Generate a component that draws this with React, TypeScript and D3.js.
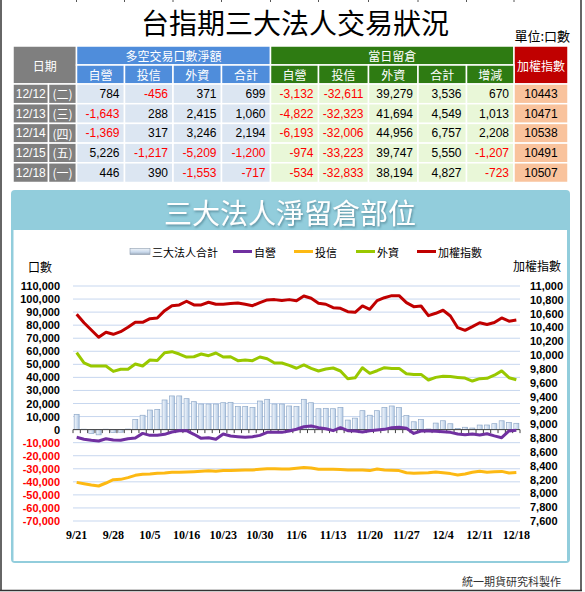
import React from 'react';
import * as d3 from 'd3';

// ---------- data ----------
const dates = ['9/21','9/22','9/25','9/26','9/27','9/28','9/29','10/2','10/3','10/4','10/5','10/6','10/11','10/12','10/13','10/16','10/17','10/18','10/19','10/20','10/23','10/24','10/25','10/26','10/27','10/30','10/31','11/1','11/2','11/3','11/6','11/7','11/8','11/9','11/10','11/13','11/14','11/15','11/16','11/17','11/20','11/21','11/22','11/23','11/24','11/27','11/28','11/29','11/30','12/1','12/4','12/5','12/6','12/7','12/8','12/11','12/12','12/13','12/14','12/15','12/18'];
const xTickDates = ['9/21','9/28','10/5','10/16','10/23','10/30','11/6','11/13','11/20','11/27','12/4','12/11','12/18'];

const totalOI = [11700, 300, -2900, -4000, 300, -2100, -2000, 400, 7800, 11000,
  15000, 15500, 22700, 25800, 25800, 23700, 21400, 19600, 19600, 19600,
  20600, 20900, 17600, 17600, 17000, 21900, 23200, 19600, 19600, 18100,
  17600, 23200, 20600, 16000, 16300, 16000, 17000, 7300, 8800, 14500,
  11000, 14500, 16900, 18100, 16900, 10700, 6000, 7800, 500, 5000,
  6800, 4500, 800, 1800, 1200, 3500, 3536, 4549, 6757, 5550,
  4827];
const dealerOI = [-5900, -7400, -8200, -8700, -7000, -8000, -8200, -7000, -6400, -2900,
  -4400, -4400, -3600, -1800, -800, -800, -3600, -6700, -6200, -7400,
  -3400, -4900, -5400, -5900, -5400, -4400, -2100, -2100, -2100, -1100,
  300, 2200, 2800, 1500, 700, -800, 1500, -800, -1100, -1800,
  -800, -300, 200, 1500, 1800, 1000, -2900, -1100, -1100, -1300,
  -1600, -2100, -3400, -3900, -3400, -4100, -3132, -4822, -6193, -974,
  -534];
const trustOI = [-40400, -41400, -42400, -43200, -40900, -38400, -38100, -36800, -35000, -34200,
  -34000, -33500, -33200, -32700, -32700, -32400, -32200, -31900, -31600, -31900,
  -31400, -31400, -31100, -30900, -30900, -30400, -29900, -29900, -30200, -30200,
  -29600, -29100, -29400, -30400, -30400, -30400, -30600, -30900, -30900, -30900,
  -31400, -30200, -30900, -31100, -31400, -33000, -33500, -33200, -33000, -32400,
  -33000, -33700, -34700, -34000, -32700, -31900, -32611, -32323, -32006, -33223,
  -32833];
const foreignOI = [58900, 51200, 48700, 48700, 48700, 44600, 46200, 46200, 50200, 48700,
  53300, 53000, 58900, 59700, 57900, 55600, 55800, 57900, 56600, 58700,
  55600, 55800, 52800, 53300, 52800, 55600, 54300, 51000, 51000, 49200,
  47000, 49500, 46900, 44900, 46400, 47200, 44900, 39000, 39700, 47400,
  43100, 45100, 47400, 46900, 46900, 42800, 42300, 42300, 38000, 40000,
  40800, 40600, 40000, 39500, 37200, 39000, 39279, 41694, 44956, 39747,
  38194];
const taiex = [10591, 10469, 10364, 10258, 10330, 10301, 10339, 10403, 10475, 10475,
  10527, 10537, 10643, 10715, 10726, 10779, 10726, 10726, 10765, 10736,
  10736, 10746, 10755, 10736, 10715, 10760, 10798, 10803, 10789, 10803,
  10786, 10856, 10822, 10750, 10736, 10687, 10677, 10629, 10620, 10711,
  10663, 10788, 10831, 10860, 10860, 10759, 10701, 10711, 10571, 10605,
  10649, 10566, 10397, 10359, 10412, 10469, 10443, 10471, 10538, 10491,
  10507];

const leftTicks = d3.range(-70000, 110001, 10000);
const rightTicks = d3.range(7600, 11001, 200);

// table
const tableDates = ['12/12', '12/13', '12/14', '12/15', '12/18'];
const tableWeekdays = ['(二)', '(三)', '(四)', '(五)', '(一)'];
const netDealer = [784, -1643, -1369, 5226, 446];
const netTrust = [-456, 288, 317, -1217, 390];
const netForeign = [371, 2415, 3246, -5209, -1553];
const netTotal = [699, 1060, 2194, -1200, -717];
const oiDealer = [-3132, -4822, -6193, -974, -534];
const oiTrust = [-32611, -32323, -32006, -33223, -32833];
const oiForeign = [39279, 41694, 44956, 39747, 38194];
const oiTotal = [3536, 4549, 6757, 5550, 4827];
const oiChange = [670, 1013, 2208, -1207, -723];
const indexClose = [10443, 10471, 10538, 10491, 10507];
const netHeaders = ['自營', '投信', '外資', '合計'];
const oiHeaders = ['自營', '投信', '外資', '合計', '增減'];

// ---------- styles ----------
const CJK = '"Noto Sans CJK TC", "Noto Sans CJK SC", sans-serif';
const SANS = '"Liberation Sans", Arial, sans-serif';
const SERIF = '"Liberation Serif", "Times New Roman", serif';
const C_RED = '#c00000';
const C_GREEN = '#99c800';
const C_PURPLE = '#7030a0';
const C_ORANGE = '#fdb913';

const fmt = d3.formatLocale({ decimal: '.', thousands: ',', grouping: [3], currency: ['', ''], minus: '-' }).format(',');

function Table() {
  const colX = [13, 48.5, 76.5, 124.5, 173, 221.5, 270.5, 318.5, 368.5, 418, 466.5, 514, 568];
  const rowY = [46, 65, 84, 103.7, 123.4, 143.1, 162.8, 182.5];
  const GRAY = '#7f7f7f', BLUE = '#4f8ddb', BLUE_L = '#dce6f2', GREEN = '#2e7b12', GREEN_L = '#e9f7d8', RED = '#c00000', ORANGE_L = '#f9c39d';
  const els: React.ReactNode[] = [];
  const cell = (key: string, x0: number, x1: number, y0: number, y1: number, fill: string) =>
    els.push(<rect key={key} x={x0} y={y0} width={x1 - x0} height={y1 - y0} fill={fill} stroke="#fff" strokeWidth={1.5} />);
  const txt = (key: string, x: number, y: number, s: string, opts: any) =>
    els.push(<text key={key} x={x} y={y} dominantBaseline="central" {...opts}>{s}</text>);

  // headers
  cell('h-date', colX[0], colX[2], rowY[0], rowY[2], GRAY);
  txt('t-date', (colX[0] + colX[2]) / 2, (rowY[0] + rowY[2]) / 2, '日期', { fill: '#fff', fontFamily: CJK, fontSize: 12, textAnchor: 'middle' });
  cell('h-net', colX[2], colX[6], rowY[0], rowY[1], BLUE);
  txt('t-net', (colX[2] + colX[6]) / 2, (rowY[0] + rowY[1]) / 2, '多空交易口數淨額', { fill: '#fff', fontFamily: CJK, fontSize: 12, textAnchor: 'middle' });
  cell('h-oi', colX[6], colX[11], rowY[0], rowY[1], GREEN);
  txt('t-oi', (colX[6] + colX[11]) / 2, (rowY[0] + rowY[1]) / 2, '當日留倉', { fill: '#fff', fontFamily: CJK, fontSize: 12, textAnchor: 'middle' });
  cell('h-idx', colX[11], colX[12], rowY[0], rowY[2], RED);
  txt('t-idx', (colX[11] + colX[12]) / 2, (rowY[0] + rowY[2]) / 2, '加權指數', { fill: '#fff', fontFamily: CJK, fontSize: 12, textAnchor: 'middle' });
  netHeaders.forEach((h, i) => {
    cell('hn' + i, colX[2 + i], colX[3 + i], rowY[1], rowY[2], BLUE);
    txt('tn' + i, (colX[2 + i] + colX[3 + i]) / 2, (rowY[1] + rowY[2]) / 2, h, { fill: '#fff', fontFamily: CJK, fontSize: 12, textAnchor: 'middle' });
  });
  oiHeaders.forEach((h, i) => {
    cell('ho' + i, colX[6 + i], colX[7 + i], rowY[1], rowY[2], GREEN);
    txt('to' + i, (colX[6 + i] + colX[7 + i]) / 2, (rowY[1] + rowY[2]) / 2, h, { fill: '#fff', fontFamily: CJK, fontSize: 12, textAnchor: 'middle' });
  });

  tableDates.forEach((d, r) => {
    const y0 = rowY[2 + r], y1 = rowY[3 + r], ym = (y0 + y1) / 2;
    cell('d' + r, colX[0], colX[1], y0, y1, GRAY);
    txt('td' + r, (colX[0] + colX[1]) / 2, ym, d, { fill: '#fff', fontFamily: SANS, fontSize: 12, textAnchor: 'middle' });
    cell('w' + r, colX[1], colX[2], y0, y1, GRAY);
    txt('tw' + r, (colX[1] + colX[2]) / 2, ym, tableWeekdays[r], { fill: '#fff', fontFamily: CJK, fontSize: 12, textAnchor: 'middle' });
    const netVals = [netDealer[r], netTrust[r], netForeign[r], netTotal[r]];
    netVals.forEach((v, i) => {
      cell(`n${r}-${i}`, colX[2 + i], colX[3 + i], y0, y1, BLUE_L);
      txt(`tn${r}-${i}`, colX[3 + i] - 5, ym, fmt(v), { fill: v < 0 ? '#ff0000' : '#000', fontFamily: SANS, fontSize: 12, textAnchor: 'end' });
    });
    const oiVals = [oiDealer[r], oiTrust[r], oiForeign[r], oiTotal[r], oiChange[r]];
    oiVals.forEach((v, i) => {
      cell(`o${r}-${i}`, colX[6 + i], colX[7 + i], y0, y1, GREEN_L);
      txt(`to${r}-${i}`, colX[7 + i] - 5, ym, fmt(v), { fill: v < 0 ? '#ff0000' : '#000', fontFamily: SANS, fontSize: 12, textAnchor: 'end' });
    });
    cell('i' + r, colX[11], colX[12], y0, y1, ORANGE_L);
    txt('ti' + r, (colX[11] + colX[12]) / 2, ym, String(indexClose[r]), { fill: '#000', fontFamily: SANS, fontSize: 12, textAnchor: 'middle' });
  });
  // spreadsheet column stubs at top edge
  colX.slice(2, 12).forEach((cx, i) => els.push(<line key={'stub' + i} x1={cx} x2={cx} y1={0} y2={2} stroke="#555" strokeWidth={1} />));
  return <g>{els}</g>;
}

function Chart() {
  const x = d3.scaleBand<string>().domain(dates).range([73, 520]).paddingInner(0.32).paddingOuter(0.16);
  const bw = x.bandwidth();
  const cx = (d: string) => (x(d) as number) + bw / 2;
  const yL = d3.scaleLinear().domain([-70000, 110000]).range([521, 286]);
  const yR = d3.scaleLinear().domain([7600, 11000]).range([521, 286]);
  const y0 = yL(0);
  const lineL = d3.line<number>().x((_, i) => cx(dates[i])).y((v) => yL(v));
  const lineR = d3.line<number>().x((_, i) => cx(dates[i])).y((v) => yR(v));
  const step = x.step();

  const legendY = 251.5;
  const legendLines = [
    { label: '自營', color: C_PURPLE, x0: 233 },
    { label: '投信', color: C_ORANGE, x0: 294 },
    { label: '外資', color: C_GREEN, x0: 356 },
    { label: '加權指數', color: C_RED, x0: 417 },
  ];

  return (
    <g>
      <defs>
        <linearGradient id="barGrad" x1="0" x2="1" y1="0" y2="0">
          <stop offset="0" stopColor="#f5f8fc" />
          <stop offset="0.5" stopColor="#d6e3f2" />
          <stop offset="1" stopColor="#b3c9e3" />
        </linearGradient>
        <linearGradient id="legGrad" x1="0" x2="0" y1="0" y2="1">
          <stop offset="0" stopColor="#eef3f9" />
          <stop offset="0.6" stopColor="#c9d9ec" />
          <stop offset="1" stopColor="#9aa8b8" />
        </linearGradient>
        <filter id="titleShadow" x="-10%" y="-30%" width="120%" height="160%">
          <feDropShadow dx="1" dy="1.5" stdDeviation="1" floodColor="#3f6f80" floodOpacity="0.7" />
        </filter>
      </defs>
      {/* panel */}
      <rect x={11} y={190} width={559} height={373} rx={4} fill="#92cddc" />
      <rect x={13.5} y={230} width={553.5} height={331} fill="#fff" />
      <text x={290} y={212} textAnchor="middle" dominantBaseline="central" fontFamily={CJK} fontSize={28} fill="#fff" filter="url(#titleShadow)">三大法人淨留倉部位</text>

      {/* legend */}
      <rect x={130} y={248.5} width={20} height={6} fill="url(#legGrad)" stroke="#8c9cae" strokeWidth={0.6} />
      <text x={152} y={legendY} dominantBaseline="central" fontFamily={CJK} fontSize={11} fill="#000">三大法人合計</text>
      {legendLines.map((l) => (
        <g key={l.label}>
          <line x1={l.x0} x2={l.x0 + 19} y1={legendY} y2={legendY} stroke={l.color} strokeWidth={3} />
          <text x={l.x0 + 21} y={legendY} dominantBaseline="central" fontFamily={CJK} fontSize={11} fill="#000">{l.label}</text>
        </g>
      ))}
      <text x={40} y={266} textAnchor="middle" dominantBaseline="central" fontFamily={CJK} fontSize={12}>口數</text>
      <text x={537} y={265} textAnchor="middle" dominantBaseline="central" fontFamily={CJK} fontSize={12}>加權指數</text>

      {/* grid */}
      {leftTicks.filter((t) => t !== 0).map((t) => (
        <line key={'g' + t} x1={73} x2={520} y1={yL(t)} y2={yL(t)} stroke="#c7d7ef" strokeWidth={1} />
      ))}
      {/* left axis labels */}
      {leftTicks.map((t) => (
        <text key={'l' + t} x={60} y={yL(t)} textAnchor="end" dominantBaseline="central" fontFamily={SANS} fontWeight="bold" fontSize={11} fill={t < 0 ? '#ff0000' : '#000'}>{fmt(t)}</text>
      ))}
      {rightTicks.map((t) => (
        <text key={'r' + t} x={530} y={yR(t)} dominantBaseline="central" fontFamily={SANS} fontWeight="bold" fontSize={11} fill="#000">{fmt(t)}</text>
      ))}

      {/* bars */}
      {totalOI.map((v, i) => {
        const yy = Math.min(yL(v), y0);
        const hh = Math.abs(yL(v) - y0);
        return <rect key={'b' + i} x={x(dates[i])} y={yy} width={bw} height={hh} fill="url(#barGrad)" stroke="#8ea8c8" strokeWidth={0.7} />;
      })}

      {/* zero axis */}
      <line x1={73} x2={520} y1={y0} y2={y0} stroke="#404040" strokeWidth={1} />
      {d3.range(dates.length + 1).map((i) => (
        <line key={'tk' + i} x1={73 + i * step} x2={73 + i * step} y1={y0} y2={y0 + 3.5} stroke="#404040" strokeWidth={1} />
      ))}

      {/* lines */}
      <path d={lineL(trustOI) || ''} fill="none" stroke={C_ORANGE} strokeWidth={3} strokeLinejoin="round" />
      <path d={lineL(foreignOI) || ''} fill="none" stroke={C_GREEN} strokeWidth={3} strokeLinejoin="round" />
      <path d={lineL(dealerOI) || ''} fill="none" stroke={C_PURPLE} strokeWidth={3} strokeLinejoin="round" />
      <path d={lineR(taiex) || ''} fill="none" stroke={C_RED} strokeWidth={3} strokeLinejoin="round" />

      {/* x labels */}
      {xTickDates.map((d) => (
        <text key={'x' + d} x={cx(d)} y={535} textAnchor="middle" dominantBaseline="central" fontFamily={SERIF} fontWeight="bold" fontSize={12}>{d}</text>
      ))}
    </g>
  );
}

export default function App() {
  return (
    <div style={{ position: 'fixed', left: 0, top: 0 }}>
      <svg width={585} height={592} viewBox="0 0 585 592" style={{ display: 'block', background: '#fff' }}>
        <rect x={0} y={0} width={585} height={592} fill="#fff" />
        <text x={295} y={21.5} textAnchor="middle" dominantBaseline="central" fontFamily={CJK} fontSize={28} fill="#000">台指期三大法人交易狀況</text>
        <text x={570} y={35} textAnchor="end" dominantBaseline="central" fontFamily={CJK} fontSize={13} fill="#000">單位:口數</text>
        <Table />
        <Chart />
        <text x={561} y={581} textAnchor="end" dominantBaseline="central" fontFamily={CJK} fontSize={11} fill="#333">統一期貨研究科製作</text>
        {/* outer frame */}
        <line x1={1} x2={1} y1={0} y2={591} stroke="#333" strokeWidth={1.5} />
        <line x1={0} x2={582} y1={590.5} y2={590.5} stroke="#333" strokeWidth={1.5} />
        <line x1={581} x2={581} y1={0} y2={591} stroke="#333" strokeWidth={1.5} />
      </svg>
    </div>
  );
}
